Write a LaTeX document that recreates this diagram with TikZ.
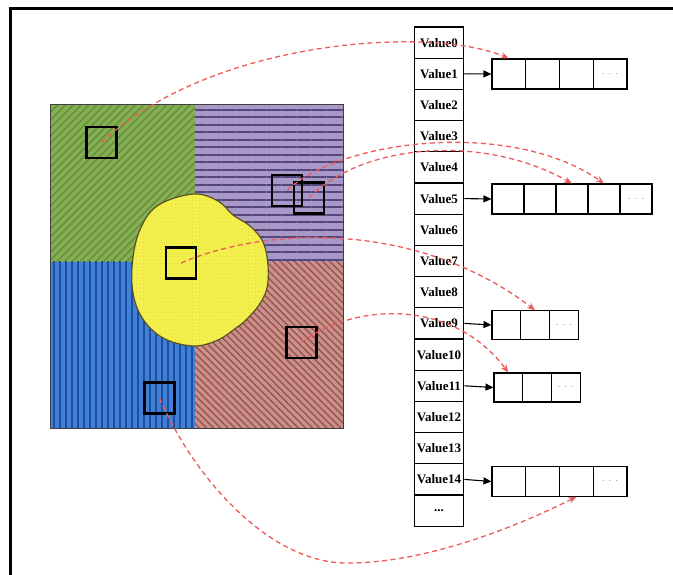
\documentclass[tikz,border=0pt]{standalone}
\usepackage{fontspec}
\setmainfont{Liberation Serif}
\usetikzlibrary{patterns.meta,arrows.meta}
\definecolor{gbase}{HTML}{86AE52}
\definecolor{gline}{HTML}{65903C}
\definecolor{pbase}{HTML}{A898C8}
\definecolor{pline}{HTML}{55467A}
\definecolor{bbase}{HTML}{3F80D6}
\definecolor{bline}{HTML}{1F4E9E}
\definecolor{rbase}{HTML}{CC908A}
\definecolor{rline}{HTML}{985550}
\definecolor{ybase}{HTML}{F3EF4C}
\definecolor{ydot}{HTML}{D2CC3C}
\definecolor{yedge}{HTML}{5A5222}
\definecolor{redarrow}{HTML}{EE5A5A}
\tikzset{
  frameline/.style={line width=3pt, black},
  probe/.style={draw=black, line width=2.3pt, minimum width=30pt, minimum height=31pt, inner sep=0pt},
  cellv/.style={draw=black, line width=1.1pt, minimum width=49.5pt, minimum height=31.2pt, inner sep=0pt, font=\fontsize{13}{14}\selectfont\bfseries},
  slot/.style={draw=black, line width=1.1pt, inner sep=0pt, font=\fontsize{10}{11}\selectfont},
  link/.style={line width=1.1pt, -{Triangle[length=8pt,width=7pt]}},
  hop/.style={redarrow, line width=1.3pt, dash pattern=on 5pt off 3.5pt, -{Stealth[length=8pt,width=6.5pt]}},
}
\newcommand{\dotsgray}{\textcolor{gray}{$\cdot\,\cdot\,\cdot$}}
\begin{document}
\begin{tikzpicture}[x=1pt,y=-1pt]
\useasboundingbox (0,0) rectangle (673,575);
% frame (top and left lines)
\draw[frameline] (8.5,9) -- (673,9);
\draw[frameline] (10,7.5) -- (10,575);

% quadrants
\fill[gbase] (50,105) rectangle (195,262);
\fill[pattern={Lines[angle=45,distance=5.5pt,line width=1.5pt]}, pattern color=gline] (50,105) rectangle (195,262);
\fill[pbase] (195,105) rectangle (343,262);
\fill[pattern={Lines[angle=0,distance=7.5pt,line width=2pt]}, pattern color=pline] (195,105) rectangle (343,262);
\fill[bbase] (50,262) rectangle (195,428);
\fill[pattern={Lines[angle=90,distance=6pt,line width=1.4pt]}, pattern color=bline] (50,262) rectangle (195,428);
\fill[rbase] (195,262) rectangle (343,428);
\fill[pattern={Lines[angle=-45,distance=5pt,line width=1.4pt]}, pattern color=rline] (195,262) rectangle (343,428);
\draw[line width=1pt, black!75] (50,105) rectangle (343,428);

% yellow blob
\def\blob{plot[smooth cycle, tension=0.6] coordinates {(193,194) (218,201) (233,215) (250,226) (263,242) (268,265) (267,288) (259,305) (246,320) (236,328) (218,340) (194,346) (165,339) (145,322) (134,298) (132,267) (139,232) (157,206)}}
\fill[ybase] \blob;
\fill[pattern={Dots[distance=3.5pt,radius=0.35pt]}, pattern color=ydot] \blob;
\draw[yedge, line width=1.2pt] \blob;

% probe squares
\node[probe] (sg) at (101.5,142.5) {};
\node[probe] (sp1) at (287,190.5) {};
\node[probe] (sp2) at (309,198) {};
\node[probe] (sy) at (181,263) {};
\node[probe] (sr) at (301.5,342.5) {};
\node[probe] (sb) at (159.5,398) {};

% value column
\foreach \i in {0,...,14}{
  \node[cellv] (v\i) at (439,42.6+31.2*\i) {Value\i};
}
\node[cellv] (v15) at (439,42.6+31.2*15) {...};

% arrays
\foreach \j in {1,...,4}{
  \node[slot, minimum width=33.75pt, minimum height=30pt] (a1c\j) at (492+33.75*\j-16.875,74) {};
}
\node at (a1c4) {\dotsgray};
\foreach \j in {1,...,5}{
  \node[slot, minimum width=32pt, minimum height=30pt] (a5c\j) at (492+32*\j-16,199) {};
}
\node at (a5c5) {\dotsgray};
\foreach \j in {1,...,3}{
  \node[slot, minimum width=28.7pt, minimum height=28.5pt] (a9c\j) at (492+28.7*\j-14.35,325) {};
}
\node at (a9c3) {\dotsgray};
\foreach \j in {1,...,3}{
  \node[slot, minimum width=28.7pt, minimum height=29pt] (a11c\j) at (494+28.7*\j-14.35,387.5) {};
}
\node at (a11c3) {\dotsgray};
\foreach \j in {1,...,4}{
  \node[slot, minimum width=33.75pt, minimum height=29.5pt] (a14c\j) at (492+33.75*\j-16.875,481.5) {};
}
\node at (a14c4) {\dotsgray};

% black links
\draw[link] (v1.east) -- (a1c1.west);
\draw[link] (v5.east) -- (a5c1.west);
\draw[link] (v9.east) -- (a9c1.west);
\draw[link] (v11.east) -- (a11c1.west);
\draw[link] (v14.east) -- (a14c1.west);

% red dashed hops
\draw[hop] (sg.center) .. controls (210,40) and (430,25) .. (a1c1.north);
\draw[hop] (sp1.center) .. controls (340,140) and (510,118) .. (a5c4.north);
\draw[hop] (sp2.center) .. controls (360,145) and (480,132) .. (a5c3.north);
\draw[hop] (sy.center) .. controls (270,225) and (420,222) .. (a9c2.north);
\draw[hop] (sr.center) .. controls (350,305) and (450,295) .. (a11c1.north);
\draw[hop] (sb.center) .. controls (195,480) and (270,562) .. (345,563) .. controls (420,564) and (510,530) .. (a14c3.south);
\end{tikzpicture}
\end{document}
